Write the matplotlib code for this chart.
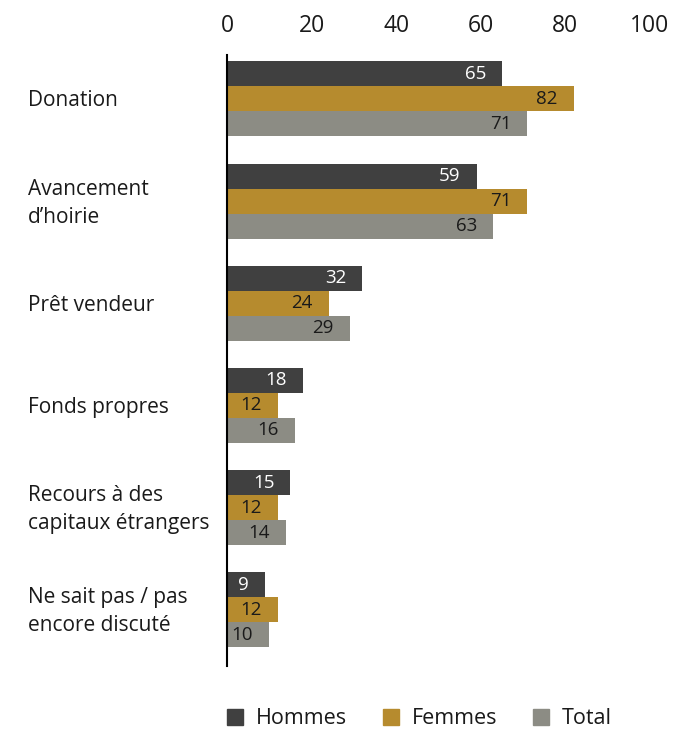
import matplotlib.pyplot as plt
from matplotlib.patches import Patch
from matplotlib.transforms import blended_transform_factory
import numpy as np

plt.rcParams['font.family'] = ['Open Sans', 'DejaVu Sans']

categories = ['Donation', 'Avancement\nd\u2019hoirie', 'Prêt vendeur', 'Fonds propres',
              'Recours à des\ncapitaux étrangers', 'Ne sait pas / pas\nencore discuté']
hommes = [65, 59, 32, 18, 15, 9]
femmes = [82, 71, 24, 12, 12, 12]
total = [71, 63, 29, 16, 14, 10]
series_names = ['Hommes', 'Femmes', 'Total']
colors = ['#404040', '#B68B2E', '#8C8C84']
text_colors = ['white', '#1a1a1a', '#1a1a1a']

fig = plt.figure(figsize=(6.86, 7.29), dpi=100)
ax = fig.add_axes([227 / 686, 1 - 666 / 729, 423 / 686, 611 / 729])

y = np.arange(len(categories))
h = 0.245
for i, vals in enumerate([hommes, femmes, total]):
    pos = y + (i - 1) * h
    ax.barh(pos, vals, height=h, color=colors[i])
    for p, v in zip(pos, vals):
        ax.text(v - 3.8, p, str(v), ha='right', va='center',
                fontsize=13.5, color=text_colors[i])

ax.set_xlim(0, 100)
ax.set_ylim(5.55, -0.43)
ax.xaxis.tick_top()
ax.set_xticks([0, 20, 40, 60, 80, 100])
ax.tick_params(axis='x', length=0, labelsize=16.5, pad=12, colors='#1a1a1a')
ax.set_yticks([])
for s in ['top', 'right', 'bottom']:
    ax.spines[s].set_visible(False)
ax.spines['left'].set_linewidth(1.5)
ax.spines['left'].set_color('black')

# category names on the left, in figure x / data y
trans = blended_transform_factory(fig.transFigure, ax.transData)
for yy, cat in zip(y, categories):
    ax.text(28 / 686, yy + 0.02, cat, transform=trans, ha='left', va='center',
            fontsize=15, color='#1a1a1a', linespacing=1.42)

handles = [Patch(color=c, label=n) for c, n in zip(colors, series_names)]
fig.legend(handles=handles, loc='center left', bbox_to_anchor=(227 / 686, 1 - 719 / 729),
           ncol=3, frameon=False, fontsize=15.5, handlelength=0.75, handleheight=0.75,
           handletextpad=0.6, columnspacing=1.65, borderaxespad=0, borderpad=0,
           labelcolor='#1a1a1a')

plt.savefig('out.png')
